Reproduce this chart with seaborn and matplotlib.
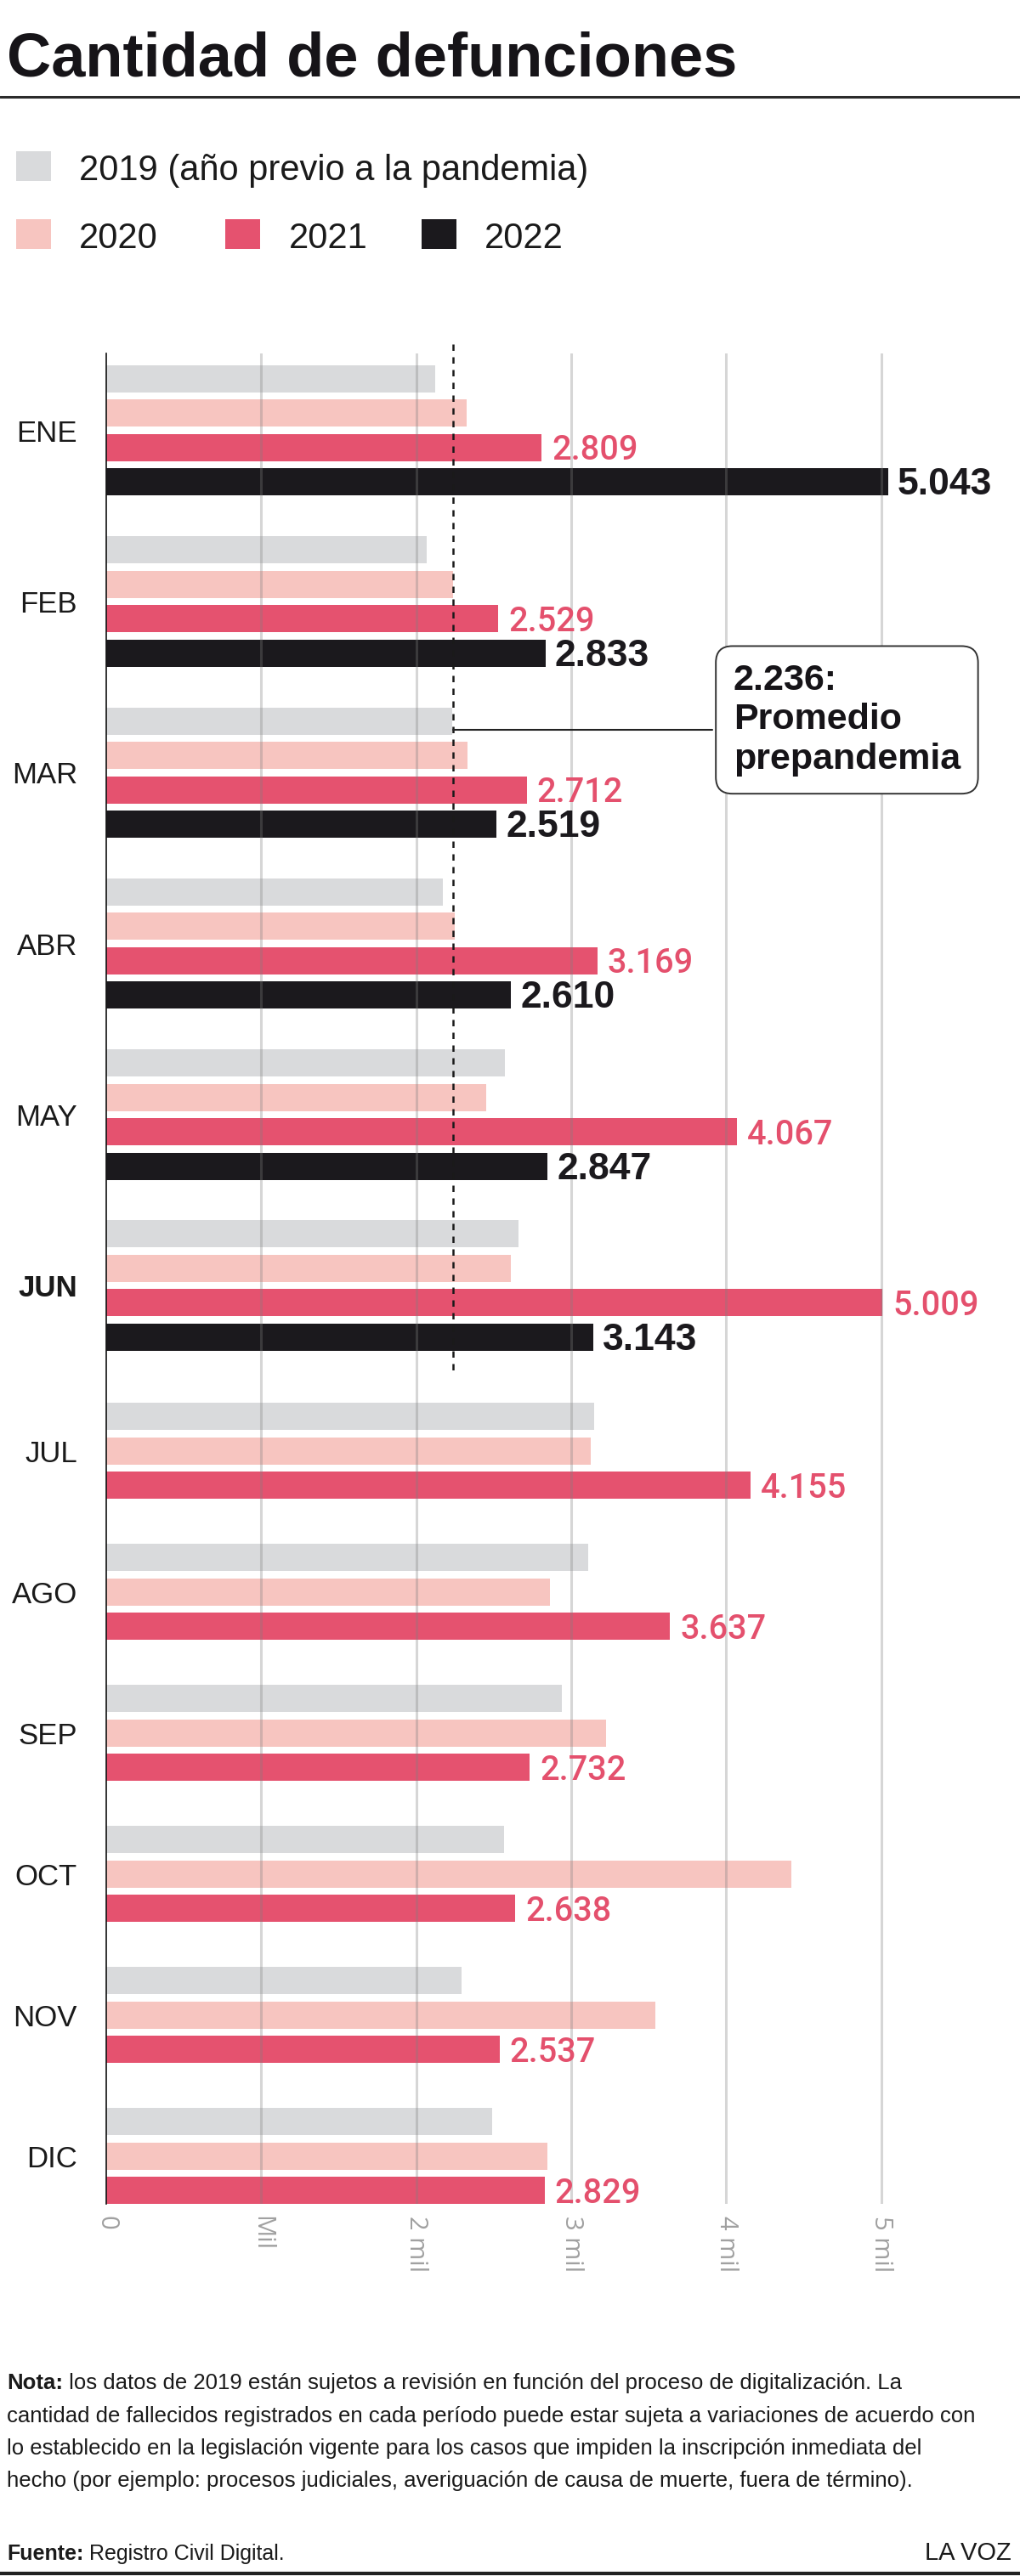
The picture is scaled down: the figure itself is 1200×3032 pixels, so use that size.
import pandas as pd
import matplotlib.pyplot as plt
import matplotlib.font_manager as fm
from matplotlib.patches import Rectangle
from matplotlib.lines import Line2D
import seaborn as sns

# Datos (defunciones por mes)
meses = ['ENE', 'FEB', 'MAR', 'ABR', 'MAY', 'JUN', 'JUL', 'AGO', 'SEP', 'OCT', 'NOV', 'DIC']
def_2019 = [2120, 2065, 2230, 2170, 2570, 2660, 3145, 3110, 2940, 2565, 2290, 2490]
def_2020 = [2325, 2240, 2330, 2250, 2450, 2610, 3125, 2860, 3225, 4420, 3540, 2845]
def_2021 = [2809, 2529, 2712, 3169, 4067, 5009, 4155, 3637, 2732, 2638, 2537, 2829]
def_2022 = [5043, 2833, 2519, 2610, 2847, 3143]
promedio_prepandemia = 2236
mes_destacado = 'JUN'

anios = ['2019', '2020', '2021', '2022']
etiquetas_leyenda = ['2019 (año previo a la pandemia)', '2020', '2021', '2022']
colores = ['#d9dadc', '#f7c5c0', '#e5526f', '#1b191d']
anios_con_etiqueta = ['2021', '2022']

xticks = [0, 1000, 2000, 3000, 4000, 5000]
xtick_labels = ['0', 'Mil', '2 mil', '3 mil', '4 mil', '5 mil']

nota = ['los datos de 2019 están sujetos a revisión en función del proceso de digitalización. La',
        'cantidad de fallecidos registrados en cada período puede estar sujeta a variaciones de acuerdo con',
        'lo establecido en la legislación vigente para los casos que impiden la inscripción inmediata del',
        'hecho (por ejemplo: procesos judiciales, averiguación de causa de muerte, fuera de término).']
fuente = 'Registro Civil Digital.'

sns.set_theme(style='white')
plt.rcParams['font.family'] = ['Liberation Sans', 'DejaVu Sans']

installed = {f.name for f in fm.fontManager.ttflist}
HAS_NARROW = 'Liberation Sans Narrow' in installed
NARROW = ['Liberation Sans Narrow', 'Liberation Sans', 'DejaVu Sans'] if HAS_NARROW else ['Liberation Sans', 'DejaVu Sans']
NOTE_SIZE = 21 if HAS_NARROW else 18.5
FUENTE_SIZE = 21 if HAS_NARROW else 18
BOX_SIZE = 35 if HAS_NARROW else 31

W, H = 1200, 3032
def fx(px):
    return px / W
def fy(py):
    return 1 - py / H

def fmt(v):
    return f'{v:,}'.replace(',', '.')

# filas: una barra por mes y anio, posiciones en "slots"
series = [def_2019, def_2020, def_2021, def_2022]
rows = []
centros = []
pos = 0.0
for i, mes in enumerate(meses):
    presentes = [k for k in range(4) if i < len(series[k])]
    for j, k in enumerate(presentes):
        rows.append({'mes': mes, 'anio': anios[k], 'valor': series[k][i], 'pos': pos + j})
    n = len(presentes)
    centros.append(pos + (n - 1) / 2)
    if i + 1 < len(meses):
        n_sig = sum(1 for k in range(4) if i + 1 < len(series[k]))
        gap = 1.3 if n_sig != n else (0.97 if n == 4 else 1.1)
        pos += n + gap
df = pd.DataFrame(rows)

SLOT = 40.5        # px por slot
BAR_W = 0.79
y_min = -0.74
y_max = df['pos'].max() + BAR_W / 2
ax_top = 416
ax_h = (y_max - y_min) * SLOT

fig = plt.figure(figsize=(W / 100, H / 100), dpi=100)
ax = fig.add_axes([fx(125), fy(ax_top + ax_h), 1003 / W, ax_h / H])

sns.barplot(data=df, x='valor', y='pos', hue='anio', hue_order=anios, palette=colores,
            orient='y', native_scale=True, dodge=False, width=BAR_W, errorbar=None,
            saturation=1, linewidth=0, legend=False, ax=ax)

ax.set_xlim(0, 5500)
ax.set_ylim(y_max, y_min)
ax.set_xlabel('')
ax.set_ylabel('')

ax.set_yticks(centros)
ax.set_yticklabels(meses, fontsize=25, color='#1a1a1a')
for lbl in ax.get_yticklabels():
    if lbl.get_text() == mes_destacado:
        lbl.set_fontweight('bold')
ax.tick_params(axis='y', length=0, pad=24.5)

ax.set_xticks(xticks)
ax.set_xticklabels(xtick_labels, rotation=-90, fontsize=21, color='#a0a0a0',
                   family=['Open Sans', 'DejaVu Sans'], va='top', ha='center')
ax.tick_params(axis='x', length=0, pad=10)

for s in ['top', 'right', 'bottom']:
    ax.spines[s].set_visible(False)
ax.spines['left'].set_color('#111111')
ax.spines['left'].set_linewidth(1.2)

for xt in xticks[1:]:
    ax.axvline(xt, color='#808080', alpha=0.32, lw=2.2, zorder=3)

# etiquetas de valor
for _, r in df[df['anio'].isin(anios_con_etiqueta)].iterrows():
    if r['anio'] == '2021':
        ax.annotate(fmt(r['valor']), xy=(r['valor'], r['pos']), xytext=(8.5, -2.5),
                    textcoords='offset points', va='center', ha='left', fontsize=28.5,
                    family=['Roboto', 'DejaVu Sans'], fontweight='medium',
                    color='#e4506d', zorder=6, annotation_clip=False)
    else:
        ax.annotate(fmt(r['valor']), xy=(r['valor'], r['pos']), xytext=(8, -2.5),
                    textcoords='offset points', va='center', ha='left', fontsize=32,
                    fontweight='bold', color='#1b191d', zorder=6, annotation_clip=False)

# promedio prepandemia
ult_2022 = df[df['anio'] == '2022']['pos'].max()
ax.plot([promedio_prepandemia, promedio_prepandemia], [y_min - 0.27, ult_2022 + 1.1],
        color='#1a1a1a', lw=1.8, ls=(0, (3, 3)), zorder=4, clip_on=False)
pos_mar = df[(df['mes'] == 'MAR') & (df['anio'] == '2019')]['pos'].iloc[0]
ax.plot([promedio_prepandemia, 3909], [pos_mar + 0.26, pos_mar + 0.26],
        color='#222222', lw=1.5, zorder=4)
ax.text(4046, pos_mar - 0.03, f'{fmt(promedio_prepandemia)}:\nPromedio\nprepandemia',
        ha='left', va='center', fontsize=BOX_SIZE, fontweight='bold', family=NARROW,
        color='#161418', linespacing=1.2, zorder=7, clip_on=False,
        bbox=dict(boxstyle='round,pad=0.48,rounding_size=0.45', fc='white',
                  ec='#333333', lw=1.4))

# titulo y filetes
fig.text(fx(8), fy(90), 'Cantidad de defunciones', fontsize=52, fontweight='bold',
         color='#161418', va='baseline', ha='left')
fig.add_artist(Line2D([0, 1], [fy(114), fy(114)], color='#2b2b2b', lw=2.2,
                      transform=fig.transFigure))
fig.add_artist(Line2D([0, 1], [fy(3029), fy(3029)], color='#222222', lw=3,
                      transform=fig.transFigure))

# leyenda
leg_pos = [(19, 213, 93), (19, 293, 93), (265, 293, 340), (496, 293, 570)]
for (sx, sb, tx), lab, col in zip(leg_pos, etiquetas_leyenda, colores):
    fig.add_artist(Rectangle((fx(sx), fy(sb)), 41 / W, 35 / H, color=col,
                             transform=fig.transFigure, lw=0))
    fig.text(fx(tx), fy(sb - 1), lab, fontsize=30, color='#1a1a1a', va='baseline', ha='left')

# nota y fuente
t_nota = fig.text(fx(8), fy(2812), 'Nota:', fontsize=NOTE_SIZE, fontweight='bold',
                  family=NARROW, color='#1a1a1a', va='baseline', ha='left')
ax.annotate(' ' + nota[0], xy=(1, 0), xycoords=t_nota, va='bottom', ha='left',
            fontsize=NOTE_SIZE, family=NARROW, color='#1a1a1a', annotation_clip=False)
for k, linea in enumerate(nota[1:]):
    fig.text(fx(8), fy(2812 + 38.5 * (k + 1)), linea, fontsize=NOTE_SIZE, family=NARROW,
             color='#1a1a1a', va='baseline', ha='left')

t_fuente = fig.text(fx(8), fy(3013), 'Fuente:', fontsize=FUENTE_SIZE, fontweight='bold',
                    family=NARROW, color='#1a1a1a', va='baseline', ha='left')
ax.annotate(' ' + fuente, xy=(1, 0), xycoords=t_fuente, va='bottom', ha='left',
            fontsize=FUENTE_SIZE, family=NARROW, color='#1a1a1a', annotation_clip=False)
fig.text(fx(1190), fy(3013), 'LA VOZ', fontsize=21, color='#1a1a1a', va='baseline', ha='right')

fig.savefig('out.png', dpi=100)
